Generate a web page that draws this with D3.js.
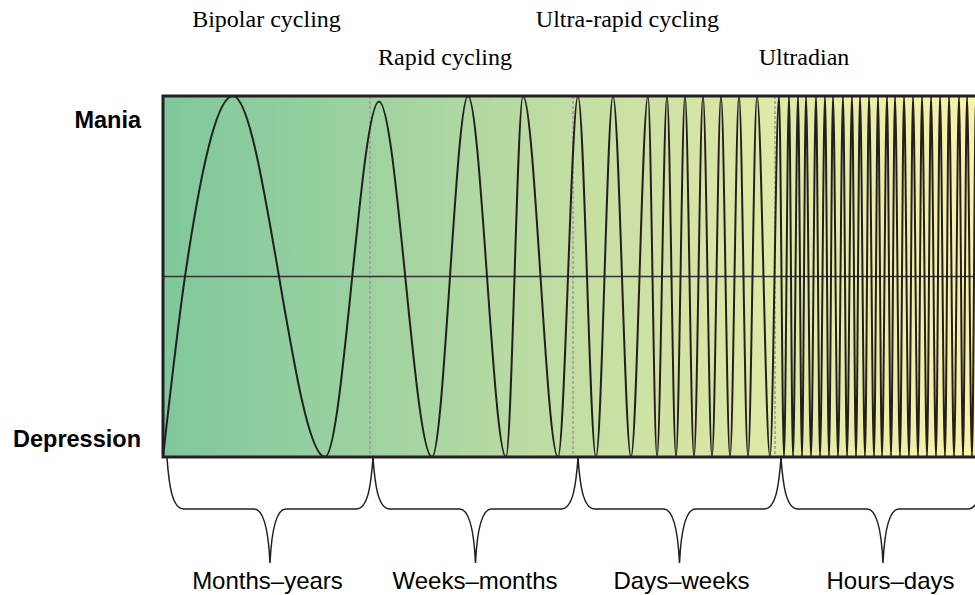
<!DOCTYPE html>
<html>
<head>
<meta charset="utf-8">
<script src="https://cdn.jsdelivr.net/npm/d3@7"></script>
<style>
  body { margin: 0; background: #fff; }
</style>
</head>
<body>
<script>
//svg size
var svgWidth = 975;
var svgHeight = 595;

//wave turning points (time units, level -1 = depression, 1 = mania)
var waveT = [0, 22, 70, 162, 216, 269, 305, 343, 360, 395, 415, 433, 450, 468, 485, 494, 504,
  513, 522, 531, 540, 549, 558, 567, 576, 585, 594, 607, 616, 621, 626, 630, 635, 639, 643,
  648, 653, 657, 662, 666, 670, 675, 680, 684, 689, 693, 697, 702, 706, 711, 715, 719, 724,
  728, 732, 737, 741, 746, 750, 755, 759, 764, 768, 773, 777, 782, 786, 791, 796, 800, 804,
  809, 813, 818];
var waveLevel = [-1, 0, 1, -1, 0.97, -1, 1, -1, 1, -1, 1, -1, 1, -1, 1, -1, 1,
  -1, 1, -1, 1, -1, 1, -1, 1, -1, 1, -1, 1, -1, 1, -1, 1, -1, 1,
  -1, 1, -1, 1, -1, 1, -1, 1, -1, 1, -1, 1, -1, 1, -1, 1, -1, 1,
  -1, 1, -1, 1, -1, 1, -1, 1, -1, 1, -1, 1, -1, 1, -1, 1, -1, 1,
  -1, 1, -1];

//phase boundaries (dashed lines) and brace ranges
var phaseBounds = [207, 410, 612];
var braceBounds = [4, 210, 415, 618, 822];
var braceLabels = ["Months\u2013years", "Weeks\u2013months", "Days\u2013weeks", "Hours\u2013days"];
var braceLabelT = [104.5, 312, 518.5, 727.5];

//top labels: name, centre, row
var topLabels = ["Bipolar cycling", "Rapid cycling", "Ultra-rapid cycling", "Ultradian"];
var topLabelT = [103.5, 282, 464.5, 641];
var topLabelRow = [0, 1, 0, 1];

var moodLabels = ["Mania", "Depression"];
var moodLevels = [1, -1];

var svg = d3.select("body")
    .append("svg")
    .attr("width", svgWidth)
    .attr("height", svgHeight);

var x = d3.scaleLinear().domain([0, 820]).range([163, 983]);
var y = d3.scaleLinear().domain([-1, 1]).range([457, 96]);

var defs = svg.append("defs");

var grad = defs.append("linearGradient")
    .attr("id", "bg")
    .attr("x1", "0%").attr("x2", "100%")
    .attr("y1", "0%").attr("y2", "0%");
[["0%", "#7fc89b"], ["25%", "#9dd2a0"], ["50%", "#c3dea3"], ["75%", "#e1e9a5"], ["100%", "#f8f4a8"]]
    .forEach(function(s){
        grad.append("stop").attr("offset", s[0]).attr("stop-color", s[1]);
    });

defs.append("clipPath")
    .attr("id", "plotclip")
    .append("rect")
    .attr("x", x(0))
    .attr("y", y(1))
    .attr("width", x(820) - x(0))
    .attr("height", y(-1) - y(1));

//background
svg.append("rect")
    .attr("x", x(0))
    .attr("y", y(1))
    .attr("width", x(820) - x(0))
    .attr("height", y(-1) - y(1))
    .style("fill", "url(#bg)");

var plot = svg.append("g").attr("clip-path", "url(#plotclip)");

//dashed phase lines
plot.selectAll("line.phase")
    .data(phaseBounds)
    .enter()
    .append("line")
    .attr("class", "phase")
    .attr("x1", function(d){ return x(d); })
    .attr("x2", function(d){ return x(d); })
    .attr("y1", y(1))
    .attr("y2", y(-1))
    .style("stroke", "#9a9a9a")
    .style("stroke-width", 1.5)
    .style("stroke-dasharray", "3,2");

//midline
plot.append("line")
    .attr("x1", x(0))
    .attr("x2", x(820))
    .attr("y1", y(0))
    .attr("y2", y(0))
    .style("stroke", "#333")
    .style("stroke-width", 1.6);

//mood wave
var wave = waveT.map(function(t, i){ return [t, waveLevel[i]]; });
var line = d3.line()
    .x(function(d){ return x(d[0]); })
    .y(function(d){ return y(d[1]); })
    .curve(d3.curveMonotoneX);

plot.append("path")
    .datum(wave)
    .attr("d", line)
    .style("fill", "none")
    .style("stroke", "#231f20")
    .style("stroke-width", 2);

//frame
svg.append("rect")
    .attr("x", x(0))
    .attr("y", y(1))
    .attr("width", x(830) - x(0))
    .attr("height", y(-1) - y(1))
    .style("fill", "none")
    .style("stroke", "#231f20")
    .style("stroke-width", 3);

//mood labels
svg.selectAll("text.mood")
    .data(moodLabels)
    .enter()
    .append("text")
    .attr("class", "mood")
    .attr("x", 141)
    .attr("y", function(d, i){ return (i == 0 ? y(moodLevels[i]) + 32 : y(moodLevels[i]) - 10); })
    .attr("text-anchor", "end")
    .style("font-family", "'Liberation Sans', Arial, sans-serif")
    .style("font-weight", "bold")
    .style("font-size", "23.5px")
    .text(function(d){ return d; });

//top labels
svg.selectAll("text.phase")
    .data(topLabels)
    .enter()
    .append("text")
    .attr("class", "phase")
    .attr("x", function(d, i){ return x(topLabelT[i]); })
    .attr("y", function(d, i){ return topLabelRow[i] == 0 ? 27 : 65; })
    .attr("text-anchor", "middle")
    .style("font-family", "'Liberation Serif', 'Times New Roman', serif")
    .style("font-size", "24px")
    .text(function(d){ return d; });

//curly braces
function bracePath(x0, x1){
    var yTop = 458, yMid = 509, yTip = 563;
    var xm = (x0 + x1) / 2;
    var p = d3.path();
    p.moveTo(x0, yTop);
    p.bezierCurveTo(x0 + 2, 485, x0 + 5, yMid, x0 + 17, yMid);
    p.lineTo(xm - 16, yMid);
    p.bezierCurveTo(xm - 8, yMid, xm - 2, 522, xm, yTip);
    p.bezierCurveTo(xm + 2, 522, xm + 8, yMid, xm + 16, yMid);
    p.lineTo(x1 - 17, yMid);
    p.bezierCurveTo(x1 - 5, yMid, x1 - 2, 485, x1, yTop);
    return p.toString();
}

var braces = braceLabels.map(function(d, i){
    return {label: d, t0: braceBounds[i], t1: braceBounds[i + 1], labelT: braceLabelT[i]};
});

svg.selectAll("path.brace")
    .data(braces)
    .enter()
    .append("path")
    .attr("class", "brace")
    .attr("d", function(d){ return bracePath(x(d.t0), x(d.t1)); })
    .style("fill", "none")
    .style("stroke", "#231f20")
    .style("stroke-width", 1.5);

svg.selectAll("text.range")
    .data(braces)
    .enter()
    .append("text")
    .attr("class", "range")
    .attr("x", function(d){ return x(d.labelT); })
    .attr("y", 589)
    .attr("text-anchor", "middle")
    .style("font-family", "'Liberation Sans', Arial, sans-serif")
    .style("font-size", "24px")
    .text(function(d){ return d.label; });
</script>
</body>
</html>
